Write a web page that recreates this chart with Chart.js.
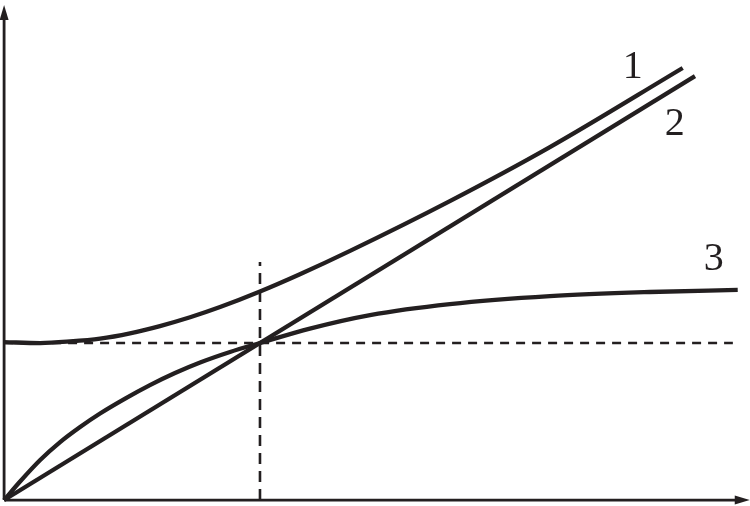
<!DOCTYPE html>
<html>
<head>
<meta charset="utf-8">
<script src="https://cdn.jsdelivr.net/npm/chart.js@4.4.1/dist/chart.umd.min.js"></script>
<style>
  html, body { margin: 0; padding: 0; background: #fff; }
  #wrap { width: 750px; height: 506px; }
</style>
</head>
<body>
<div id="wrap"><canvas id="myChart" width="750" height="506"></canvas></div>
<script>
// values (unit = the crossing point of the dashed lines)
var curve1X = [0, 0.141, 0.258, 0.375, 0.492, 0.609, 0.727, 0.844, 1.0, 1.156, 1.352, 1.742, 2.133, 2.652];
var curve1Y = [1.006, 1.0, 1.01, 1.028, 1.062, 1.108, 1.164, 1.229, 1.328, 1.438, 1.587, 1.904, 2.248, 2.752];

var curve2X = [0, 2.70];
var curve2Y = [0, 2.70];

var curve3X = [0, 0.0625, 0.141, 0.219, 0.297, 0.375, 0.473, 0.570, 0.668, 0.766, 0.883, 1.0, 1.195, 1.430, 1.742, 2.133, 2.523, 2.867];
var curve3Y = [0, 0.118, 0.255, 0.369, 0.465, 0.551, 0.646, 0.732, 0.809, 0.876, 0.943, 1.0, 1.092, 1.178, 1.248, 1.299, 1.325, 1.338];

var hDashX = [0, 2.848];
var hDashY = [1, 1];
var vDashX = [1, 1];
var vDashY = [0, 1.516];

var xAxisEnd = 2.914;
var yAxisEnd = 3.153;

var curveLabels = ['1', '2', '3'];
var labelX = [2.457, 2.621, 2.773];
var labelY = [2.752, 2.389, 1.529];

var ink = '#231f20';

function pts(xs, ys) {
    return xs.map(function (x, i) { return { x: x, y: ys[i] }; });
}

// draws arrow heads on the axes and the curve numbers
var decorPlugin = {
    id: 'decor',
    afterDatasetsDraw: function (chart) {
        var ctx = chart.ctx;
        var xs = chart.scales.x, ys = chart.scales.y;
        var ox = xs.getPixelForValue(0), oy = ys.getPixelForValue(0);
        var tx = xs.getPixelForValue(xAxisEnd), ty = ys.getPixelForValue(yAxisEnd);
        ctx.save();
        ctx.fillStyle = ink;
        // y arrow
        ctx.beginPath();
        ctx.moveTo(ox, ty);
        ctx.lineTo(ox - 4.5, ty + 15);
        ctx.lineTo(ox + 4.5, ty + 15);
        ctx.closePath();
        ctx.fill();
        // x arrow
        ctx.beginPath();
        ctx.moveTo(tx, oy);
        ctx.lineTo(tx - 15, oy - 4.5);
        ctx.lineTo(tx - 15, oy + 4.5);
        ctx.closePath();
        ctx.fill();
        // labels
        ctx.font = '40px "Liberation Serif", "DejaVu Serif", serif';
        ctx.textAlign = 'center';
        ctx.textBaseline = 'middle';
        curveLabels.forEach(function (t, i) {
            ctx.fillText(t, xs.getPixelForValue(labelX[i]), ys.getPixelForValue(labelY[i]));
        });
        ctx.restore();
    }
};

var ctx = document.getElementById('myChart').getContext('2d');

var myChart = new Chart(ctx, {
    type: 'line',
    data: {
        datasets: [
            { data: pts(curve1X, curve1Y), borderColor: ink, borderWidth: 4.3, cubicInterpolationMode: 'monotone' },
            { data: pts(curve2X, curve2Y), borderColor: ink, borderWidth: 4.3 },
            { data: pts(curve3X, curve3Y), borderColor: ink, borderWidth: 4.3, cubicInterpolationMode: 'monotone' },
            { data: pts(hDashX, hDashY), borderColor: ink, borderWidth: 2.6, borderDash: [9, 7] },
            { data: pts(vDashX, vDashY), borderColor: ink, borderWidth: 2.6, borderDash: [11, 7] },
            // axes
            { data: pts([0, xAxisEnd - 0.03], [0, 0]), borderColor: ink, borderWidth: 2.8 },
            { data: pts([0, 0], [0, yAxisEnd - 0.06]), borderColor: ink, borderWidth: 2.8 }
        ]
    },
    options: {
        responsive: false,
        animation: false,
        layout: { padding: 0 },
        elements: { point: { radius: 0 }, line: { borderCapStyle: 'butt' } },
        plugins: { legend: { display: false }, tooltip: { enabled: false } },
        scales: {
            x: { type: 'linear', min: -0.016, max: 2.915, display: false },
            y: { type: 'linear', min: -0.038, max: 3.185, display: false }
        }
    },
    plugins: [decorPlugin]
});
</script>
</body>
</html>
